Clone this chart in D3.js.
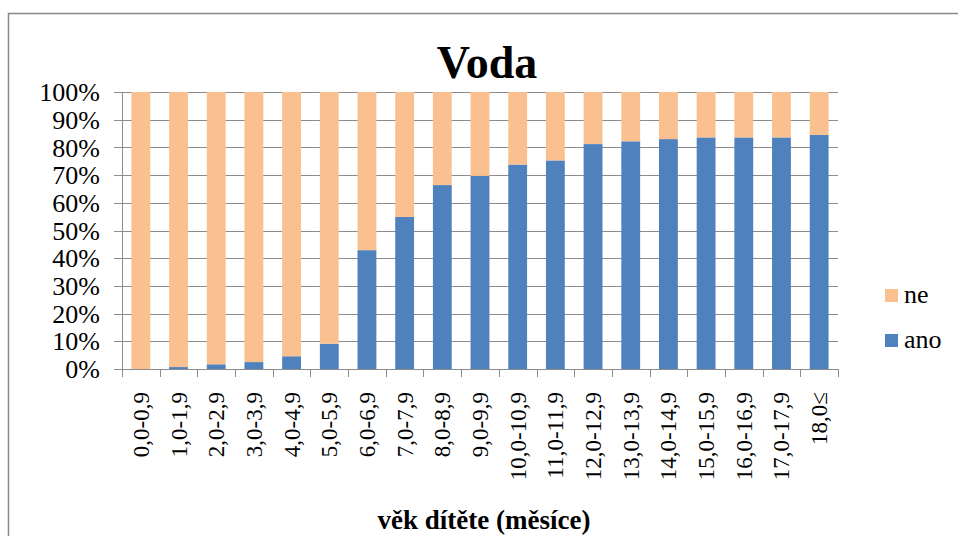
<!DOCTYPE html>
<html><head><meta charset="utf-8">
<script src="https://cdn.jsdelivr.net/npm/d3@7"></script>
<style>body{margin:0;background:#fff}svg{display:block;font-family:"Liberation Serif","Times New Roman",Tinos,serif}</style>
</head><body>
<svg id="c" width="958" height="536"></svg>
<script>
const categories = ["0,0-0,9","1,0-1,9","2,0-2,9","3,0-3,9","4,0-4,9","5,0-5,9","6,0-6,9","7,0-7,9","8,0-8,9","9,0-9,9","10,0-10,9","11,0-11,9","12,0-12,9","13,0-13,9","14,0-14,9","15,0-15,9","16,0-16,9","17,0-17,9","18,0≤"];
const ano = [0, 0.7, 1.7, 2.5, 4.6, 9.1, 42.9, 54.9, 66.4, 69.7, 73.8, 75.3, 81.2, 82.2, 83.0, 83.6, 83.6, 83.6, 84.5];
const ne = ano.map(v => 100 - v);
const yTicks = [0,10,20,30,40,50,60,70,80,90,100];
const seriesNames = ["ano","ne"];
const colors = {ano:"#4F81BD", ne:"#FAC090"};

const svg = d3.select("#c");
const L = 122, R = 838, T = 92, B = 369;

svg.append("rect").attr("x",8.5).attr("y",13.5).attr("width",980).attr("height",600)
  .attr("fill","none").attr("stroke","#888").attr("stroke-width",1.5);

const x = d3.scaleBand().domain(categories).range([L,R]).paddingInner(0.5).paddingOuter(0.25);
const y = d3.scaleLinear().domain([0,100]).range([B,T]);

svg.append("g").selectAll("line").data(yTicks).join("line")
  .attr("x1",L-8).attr("x2",R).attr("y1",d=>Math.round(y(d))+0.5).attr("y2",d=>Math.round(y(d))+0.5)
  .attr("stroke","#8c8c8c").attr("stroke-width",1);

const rows = categories.map((c,i)=>({cat:c, ano:ano[i], ne:ne[i]}));
const stack = d3.stack().keys(seriesNames)(rows);
svg.append("g").selectAll("g").data(stack).join("g").attr("fill",d=>colors[d.key])
  .selectAll("rect").data(d=>d).join("rect")
  .attr("x",d=>x(d.data.cat)).attr("width",x.bandwidth())
  .attr("y",d=>y(d[1])).attr("height",d=>y(d[0])-y(d[1]));

svg.append("line").attr("x1",L+0.5).attr("x2",L+0.5).attr("y1",T).attr("y2",B+8).attr("stroke","#8c8c8c");
const bounds = d3.range(categories.length+1).map(i=>L + i*(R-L)/categories.length);
svg.append("g").selectAll("line").data(bounds).join("line")
  .attr("x1",d=>Math.round(d)+0.5).attr("x2",d=>Math.round(d)+0.5).attr("y1",B).attr("y2",B+8)
  .attr("stroke","#8c8c8c");

svg.append("g").selectAll("text").data(yTicks).join("text")
  .attr("x",100).attr("y",d=>y(d)).attr("dy","0.35em").attr("text-anchor","end")
  .attr("font-size",26).text(d=>d+"%");

svg.append("g").selectAll("text").data(categories).join("text")
  .attr("transform",d=>`translate(${x(d)+x.bandwidth()/2+8},392) rotate(-90)`)
  .attr("text-anchor","end").attr("font-size",23).text(d=>d);

svg.append("text").attr("x",487).attr("y",78).attr("text-anchor","middle")
  .attr("font-weight","bold").attr("font-size",46).text("Voda");
svg.append("text").attr("x",484).attr("y",529).attr("text-anchor","middle")
  .attr("font-weight","bold").attr("font-size",27).text("věk dítěte (měsíce)");

const leg = [{k:"ne",y:289},{k:"ano",y:334}];
const lg = svg.append("g");
lg.selectAll("rect").data(leg).join("rect").attr("x",885).attr("y",d=>d.y).attr("width",13).attr("height",13).attr("fill",d=>colors[d.k]);
lg.selectAll("text").data(leg).join("text").attr("x",904).attr("y",d=>d.y+14)
  .attr("font-size",26).text(d=>d.k);
</script>
</body></html>
